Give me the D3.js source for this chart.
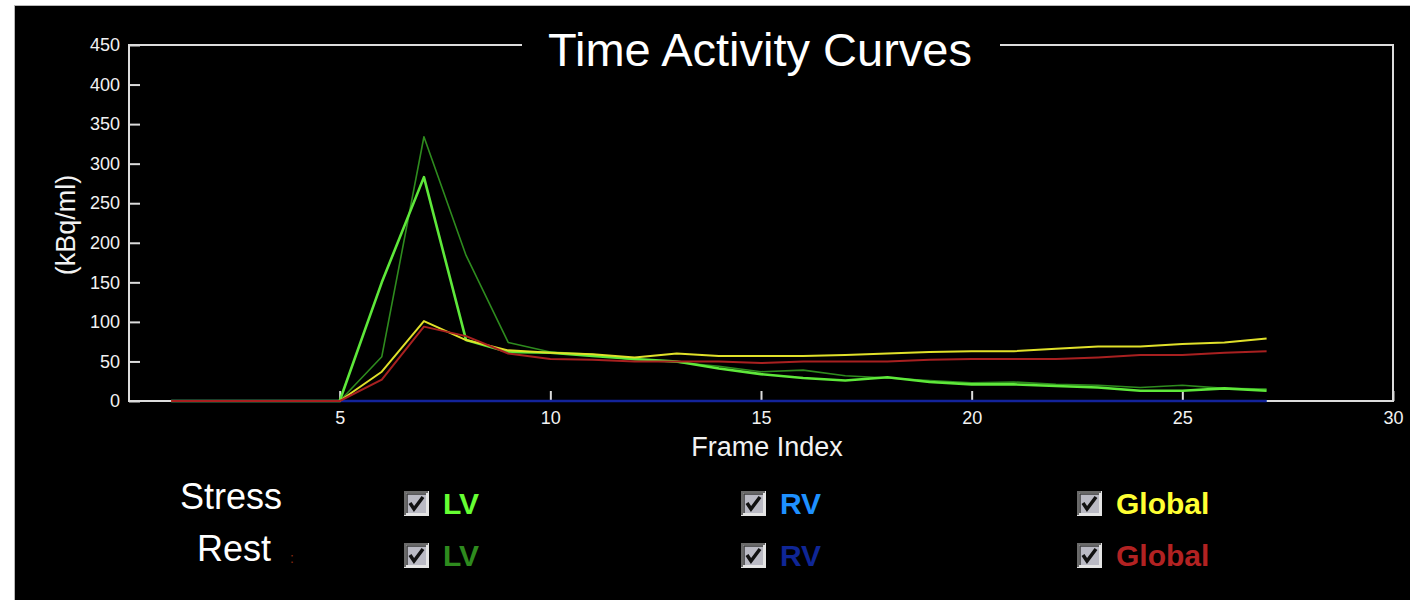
<!DOCTYPE html>
<html>
<head>
<meta charset="utf-8">
<script src="https://cdn.jsdelivr.net/npm/d3@7"></script>
<style>
  body { margin: 0; background: #fff; }
  text { font-family: "Liberation Sans", Arial, sans-serif; }
</style>
</head>
<body>
<div id="chart"></div>
<script>
// frame index on x, activity (kBq/ml) on y
const frames = [1, 2, 3, 4, 5, 6, 7, 8, 9, 10, 11, 12, 13, 14, 15, 16, 17, 18, 19, 20, 21, 22, 23, 24, 25, 26, 27];

const stressLV     = [0, 0, 0, 0, 0, 150, 283, 77, 62, 61, 57, 53, 50, 41, 34, 29, 26, 30, 24, 21, 21, 19, 17, 13, 13, 16, 13];
const restLV       = [0, 0, 0, 0, 0, 56, 334, 184, 74, 62, 59, 52, 49, 44, 37, 39, 32, 29, 26, 23, 24, 21, 20, 17, 20, 16, 15];
const stressRV     = [0, 0, 0, 0, 0, 0, 0, 0, 0, 0, 0, 0, 0, 0, 0, 0, 0, 0, 0, 0, 0, 0, 0, 0, 0, 0, 0];
const restRV       = [0, 0, 0, 0, 0, 0, 0, 0, 0, 0, 0, 0, 0, 0, 0, 0, 0, 0, 0, 0, 0, 0, 0, 0, 0, 0, 0];
const stressGlobal = [0, 0, 0, 0, 0, 37, 101, 77, 64, 61, 59, 55, 60, 57, 57, 57, 58, 60, 62, 63, 63, 66, 69, 69, 72, 74, 79];
const restGlobal   = [0, 0, 0, 0, 0, 27, 94, 82, 60, 53, 52, 50, 50, 50, 48, 50, 50, 50, 52, 53, 53, 53, 55, 58, 58, 61, 63];

const xTicks = [5, 10, 15, 20, 25, 30];
const yTicks = [0, 50, 100, 150, 200, 250, 300, 350, 400, 450];

const legendRows = ['Stress', 'Rest'];
const legendItems = ['LV', 'RV', 'Global'];
const legendColors = [
  ['#66ff33', '#1e90ff', '#ffff33'],
  ['#2e8b1e', '#0f2696', '#b22222']
];

// drawing order matters: rest global ends up on top at the zero baseline
const series = [
  { values: stressRV, color: '#1e90ff', width: 2 },
  { values: restRV, color: '#13239a', width: 2.5 },
  { values: restLV, color: '#2e8b1e', width: 1.6 },
  { values: stressLV, color: '#5ee83a', width: 2.6 },
  { values: stressGlobal, color: '#e0e02a', width: 2 },
  { values: restGlobal, color: '#a82020', width: 2 }
];

const width = 1410;
const height = 600;
const plot = { left: 129, right: 1393, top: 45, bottom: 401 };

const svg = d3.select('#chart')
  .append('svg')
  .attr('width', width)
  .attr('height', height);

svg.append('rect')
  .attr('x', 14.5)
  .attr('y', 5.5)
  .attr('width', width)
  .attr('height', height)
  .attr('fill', '#000')
  .attr('stroke', '#b8b8b8');

const x = d3.scaleLinear().domain([0, 30]).range([plot.left, plot.right]);
const y = d3.scaleLinear().domain([0, 450]).range([plot.bottom, plot.top]);

// frame with a gap in the top edge for the title
const frameColor = '#dcdcdc';
svg.append('path')
  .attr('d', `M522,${plot.top}H${plot.left}V${plot.bottom}H${plot.right}V${plot.top}H1000`)
  .attr('fill', 'none')
  .attr('stroke', frameColor)
  .attr('stroke-width', 2);

const yAxis = svg.append('g')
  .attr('transform', `translate(${plot.left},0)`)
  .call(d3.axisLeft(y).tickValues(yTicks).tickSize(-11).tickPadding(9));

const xAxis = svg.append('g')
  .attr('transform', `translate(0,${plot.bottom})`)
  .call(d3.axisBottom(x).tickValues(xTicks).tickSize(-10).tickPadding(10));

[xAxis, yAxis].forEach(g => {
  g.select('.domain').remove();
  g.selectAll('line').attr('stroke', frameColor).attr('stroke-width', 2);
  g.selectAll('text')
    .attr('fill', '#f2f2f2')
    .style('font-size', '18px');
});

const line = d3.line()
  .x((d, i) => x(frames[i]))
  .y(d => y(d));

svg.selectAll('.curve')
  .data(series)
  .enter()
  .append('path')
  .attr('class', 'curve')
  .attr('d', d => line(d.values))
  .attr('fill', 'none')
  .attr('stroke', d => d.color)
  .attr('stroke-width', d => d.width)
  .attr('stroke-linejoin', 'round');

svg.append('text')
  .attr('x', 760)
  .attr('y', 66)
  .attr('text-anchor', 'middle')
  .attr('fill', '#fff')
  .style('font-size', '47px')
  .text('Time Activity Curves');

svg.append('text')
  .attr('x', 767)
  .attr('y', 456)
  .attr('text-anchor', 'middle')
  .attr('fill', '#f2f2f2')
  .style('font-size', '27px')
  .text('Frame Index');

svg.append('text')
  .attr('transform', 'translate(75,225) rotate(-90)')
  .attr('text-anchor', 'middle')
  .attr('fill', '#f2f2f2')
  .style('font-size', '27px')
  .text('(kBq/ml)');

// legend with check boxes
const rowTop = [491, 543];
const rowLabelX = [180, 197];
const colX = [404, 741, 1077];
const box = 25;

legendRows.forEach((name, r) => {
  svg.append('text')
    .attr('x', rowLabelX[r])
    .attr('y', rowTop[r] + 18)
    .attr('fill', '#fff')
    .style('font-size', '36px')
    .text(name);

  legendItems.forEach((item, c) => {
    const bx = colX[c];
    const by = rowTop[r];
    const g = svg.append('g');
    g.append('rect')
      .attr('x', bx).attr('y', by)
      .attr('width', box).attr('height', box)
      .attr('fill', '#e4e4e4');
    g.append('path')
      .attr('d', `M${bx + 1},${by + box - 1}V${by + 1}H${bx + box - 1}`)
      .attr('fill', 'none')
      .attr('stroke', '#6a6a6a')
      .attr('stroke-width', 2);
    g.append('rect')
      .attr('x', bx + 3).attr('y', by + 3)
      .attr('width', box - 6).attr('height', box - 6)
      .attr('fill', '#babac4');
    g.append('path')
      .attr('d', `M${bx + 3},${by + box - 3}V${by + 3}H${bx + box - 3}`)
      .attr('fill', 'none')
      .attr('stroke', '#3a3a3a')
      .attr('stroke-width', 1.5);
    g.append('path')
      .attr('d', `M${bx + 6},${by + 12}L${bx + 10},${by + 18}L${bx + 19},${by + 6}`)
      .attr('fill', 'none')
      .attr('stroke', '#111')
      .attr('stroke-width', 3.5);

    svg.append('text')
      .attr('x', bx + 39)
      .attr('y', by + 23)
      .attr('fill', legendColors[r][c])
      .style('font-size', '30px')
      .style('font-weight', 'bold')
      .text(item);
  });
});

svg.append('text')
  .attr('x', 290)
  .attr('y', 563)
  .attr('fill', '#8b2a10')
  .style('font-size', '14px')
  .text(':');
</script>
</body>
</html>
